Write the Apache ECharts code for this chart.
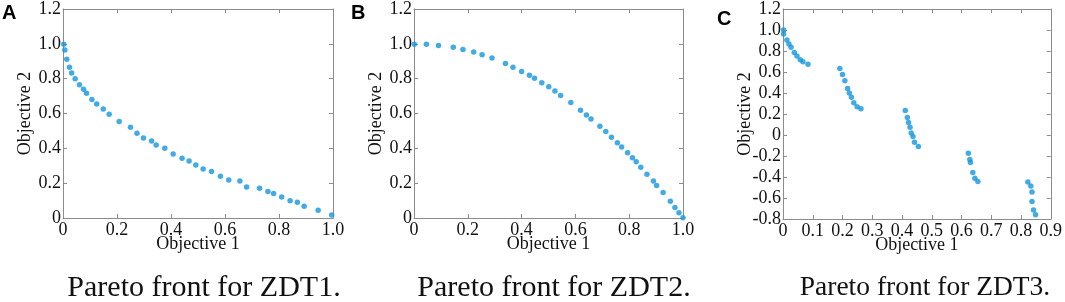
<!DOCTYPE html>
<html>
<head>
<meta charset="utf-8">
<script src="https://cdn.jsdelivr.net/npm/echarts@6/dist/echarts.min.js"></script>
<style>
html,body{margin:0;padding:0;background:#fff;}
#chart{width:1065px;height:302px;}
</style>
</head>
<body>
<div id="chart"></div>
<script>
// ---- Data ----
var zdt1X = [0.003,0.007,0.014,0.024,0.032,0.045,0.061,0.076,0.087,0.107,0.125,0.149,0.171,0.208,0.250,0.274,0.298,0.328,0.345,0.377,0.408,0.441,0.467,0.492,0.519,0.550,0.583,0.614,0.655,0.680,0.728,0.759,0.780,0.810,0.841,0.868,0.893,0.945,0.995];
var zdt1Y = [0.998,0.964,0.911,0.865,0.832,0.799,0.765,0.739,0.716,0.680,0.654,0.626,0.596,0.554,0.521,0.487,0.460,0.442,0.419,0.400,0.367,0.343,0.327,0.305,0.282,0.267,0.239,0.218,0.212,0.178,0.171,0.152,0.141,0.120,0.099,0.090,0.068,0.045,0.017];

var zdt2X = [0.001,0.046,0.091,0.146,0.182,0.222,0.253,0.290,0.340,0.368,0.400,0.429,0.448,0.475,0.501,0.524,0.545,0.583,0.619,0.641,0.658,0.691,0.713,0.734,0.756,0.772,0.794,0.812,0.826,0.843,0.866,0.890,0.902,0.926,0.953,0.970,0.985,1.0];
var zdt2Y = [0.998,0.998,0.991,0.980,0.968,0.953,0.938,0.919,0.887,0.866,0.841,0.819,0.802,0.776,0.754,0.729,0.704,0.663,0.619,0.591,0.568,0.527,0.496,0.464,0.432,0.408,0.374,0.346,0.323,0.292,0.251,0.213,0.187,0.147,0.096,0.060,0.030,0.002];

var zdt3X = [0.002,0.002,0.013,0.020,0.027,0.038,0.047,0.058,0.067,0.084,
             0.191,0.200,0.208,0.217,0.223,0.230,0.238,0.249,0.262,
             0.411,0.418,0.422,0.427,0.431,0.437,0.442,0.455,
             0.623,0.628,0.630,0.638,0.645,0.655,
             0.823,0.833,0.837,0.837,0.842,0.849];
var zdt3Y = [1.0,0.961,0.905,0.867,0.836,0.785,0.753,0.716,0.697,0.675,
             0.633,0.577,0.517,0.444,0.401,0.359,0.306,0.268,0.250,
             0.233,0.167,0.120,0.073,0.019,-0.015,-0.069,-0.110,
             -0.173,-0.233,-0.261,-0.356,-0.412,-0.444,
             -0.447,-0.485,-0.542,-0.633,-0.715,-0.759];

var panelLetters = ['A','B','C'];
var captions = ['Pareto front for ZDT1.','Pareto front for ZDT2.','Pareto front for ZDT3.'];
var xName = 'Objective 1';
var yName = 'Objective 2';

function pairs(xs, ys){ var out=[]; for(var i=0;i<xs.length;i++){ out.push([xs[i], ys[i]]); } return out; }

var serif = 'Liberation Serif';
var axisGray = '#8c8c8c';
var ptColor = '#1496dc';

function fmt(v){ return Math.abs(v) < 1e-9 ? '0' : v.toFixed(1); }

var grids = [
  {left:63, top:6, width:270, height:212},
  {left:414, top:6, width:269, height:212},
  {left:783, top:7, width:270, height:212}
];
var ranges = [
  {xmin:0,xmax:1,xint:0.2,ymin:0,ymax:1.2,yint:0.2},
  {xmin:0,xmax:1,xint:0.2,ymin:0,ymax:1.2,yint:0.2},
  {xmin:0,xmax:0.9,xint:0.1,ymin:-0.8,ymax:1.2,yint:0.2}
];
var datasets = [pairs(zdt1X,zdt1Y), pairs(zdt2X,zdt2Y), pairs(zdt3X,zdt3Y)];

var xAxes=[], yAxes=[], series=[];
for (var g=0; g<3; g++){
  var r = ranges[g];
  var common = {
    axisLine:{show:true,onZero:false,lineStyle:{color:axisGray,width:1}},
    axisTick:{show:true,inside:true,length:4,lineStyle:{color:axisGray}},
    splitLine:{show:false}
  };
  xAxes.push(Object.assign({type:'value',gridIndex:g,position:'bottom',min:r.xmin,max:r.xmax,interval:r.xint,
    name:xName,nameLocation:'middle',nameGap:17,nameMoveOverlap:false,
    nameTextStyle:{fontFamily:serif,fontSize:18,color:'#111'},
    axisLabel:{fontFamily:serif,fontSize:18,color:'#111',margin:3,formatter:fmt}}, common));
  xAxes.push(Object.assign({type:'value',gridIndex:g,position:'top',min:r.xmin,max:r.xmax,interval:r.xint,
    axisLabel:{show:false}}, common));
  yAxes.push(Object.assign({type:'value',gridIndex:g,position:'left',min:r.ymin,max:r.ymax,interval:r.yint,
    name:yName,nameLocation:'middle',nameGap:29,nameMoveOverlap:false,
    nameTextStyle:{fontFamily:serif,fontSize:18,color:'#111'},
    axisLabel:{fontFamily:serif,fontSize:18,color:'#111',margin:2,formatter:fmt}}, common));
  yAxes.push(Object.assign({type:'value',gridIndex:g,position:'right',min:r.ymin,max:r.ymax,interval:r.yint,
    axisLabel:{show:false}}, common));
  series.push({type:'scatter',xAxisIndex:2*g,yAxisIndex:2*g,data:datasets[g],
    symbol:'circle',symbolSize:5.5,clip:false,itemStyle:{color:ptColor},silent:true});
}

var graphics = [
  {type:'text',left:2,top:3,style:{text:panelLetters[0],font:'bold 20px "Liberation Sans"',fill:'#000'}},
  {type:'text',left:351,top:3,style:{text:panelLetters[1],font:'bold 20px "Liberation Sans"',fill:'#000'}},
  {type:'text',left:717,top:9,style:{text:panelLetters[2],font:'bold 20px "Liberation Sans"',fill:'#000'}},
  {type:'text',x:204,y:288,style:{text:captions[0],font:'30px "Liberation Serif"',fill:'#111',align:'center',verticalAlign:'middle'}},
  {type:'text',x:554,y:288,style:{text:captions[1],font:'30px "Liberation Serif"',fill:'#111',align:'center',verticalAlign:'middle'}},
  {type:'text',x:925,y:288,style:{text:captions[2],font:'27.5px "Liberation Serif"',fill:'#111',align:'center',verticalAlign:'middle'}}
];

var chart = echarts.init(document.getElementById('chart'), null, {renderer:'canvas'});
chart.setOption({
  animation:false,
  backgroundColor:'#fff',
  grid:grids,
  xAxis:xAxes,
  yAxis:yAxes,
  series:series,
  graphic:graphics
});
</script>
</body>
</html>
